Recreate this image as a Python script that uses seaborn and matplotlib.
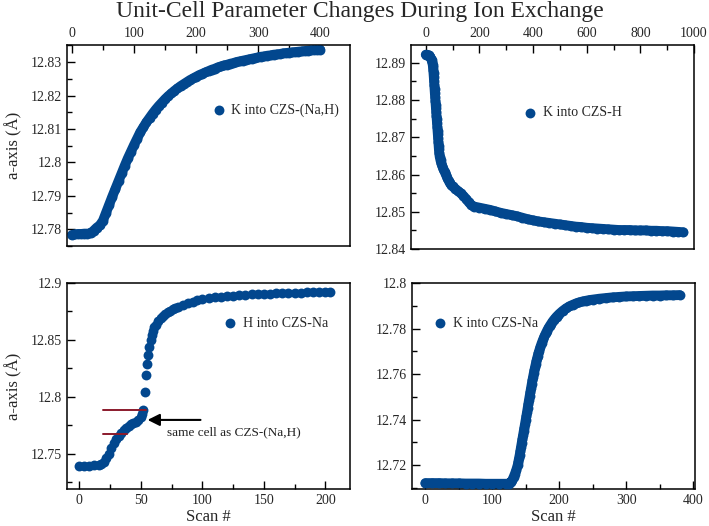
import numpy as np
import pandas as pd
import matplotlib
matplotlib.use("Agg")
import matplotlib.pyplot as plt
from matplotlib.ticker import MultipleLocator, FuncFormatter
import seaborn as sns

# ---------------- data ----------------
title = "Unit-Cell Parameter Changes During Ion Exchange"

# Panel 1: K into CZS-(Na,H)
k_nah_scan = [0, 5, 10, 15, 20, 25, 30, 35, 40, 45, 50, 55, 60, 65, 70, 75, 80, 85, 90, 95,
              100, 105, 110, 115, 120, 125, 130, 135, 140, 145, 150, 155, 160, 165, 170, 175,
              180, 185, 190, 195, 200, 205, 210, 215, 220, 225, 230, 235, 240, 245, 250, 255,
              260, 265, 270, 275, 280, 285, 290, 295, 300, 305, 310, 315, 320, 325, 330, 335,
              340, 345, 350, 355, 360, 365, 370, 375, 380, 385, 390, 395, 400]
k_nah_a = [12.7783, 12.7785, 12.7786, 12.7786, 12.7787, 12.7787, 12.7788, 12.7796, 12.7805,
           12.7812, 12.7826, 12.7850, 12.7874, 12.7898, 12.7921, 12.7944, 12.7967, 12.7990,
           12.8012, 12.8032, 12.8052, 12.8071, 12.8090, 12.8105, 12.8120, 12.8133, 12.8146,
           12.8158, 12.8169, 12.8179, 12.8189, 12.8198, 12.8206, 12.8214, 12.8221, 12.8228,
           12.8234, 12.8240, 12.8246, 12.8251, 12.8256, 12.8261, 12.8265, 12.8269, 12.8273,
           12.8277, 12.8280, 12.8284, 12.8287, 12.8290, 12.8292, 12.8295, 12.8297, 12.8300,
           12.8302, 12.8304, 12.8306, 12.8308, 12.8310, 12.8312, 12.8314, 12.8316, 12.8317,
           12.8319, 12.8320, 12.8322, 12.8323, 12.8324, 12.8326, 12.8327, 12.8328, 12.8329,
           12.8330, 12.8331, 12.8332, 12.8333, 12.8334, 12.8335, 12.8336, 12.8336, 12.8337]

# Panel 2: K into CZS-H
k_h_scan = [0, 4, 8, 12, 16, 20, 22, 24, 26, 27, 28, 29, 30, 31, 32, 33, 34, 35, 36, 37, 38,
            39, 40, 41, 42, 43, 44, 45, 46, 47, 48, 49, 50, 52, 55, 58, 62, 66, 70, 75, 80,
            85, 90, 95, 100, 110, 120, 130, 140, 150, 160, 170, 180, 200, 220, 240, 260, 280,
            300, 320, 340, 360, 380, 400, 420, 440, 460, 480, 500, 520, 540, 560, 580, 600,
            620, 640, 660, 680, 700, 720, 740, 760, 780, 800, 820, 840, 860, 880, 900, 920,
            940, 960]
k_h_a = [12.8922, 12.8922, 12.8921, 12.8920, 12.8917, 12.8911, 12.8907, 12.8902, 12.8895,
         12.8889, 12.8881, 12.8872, 12.8862, 12.8851, 12.8840, 12.8829, 12.8818, 12.8808,
         12.8798, 12.8788, 12.8778, 12.8768, 12.8758, 12.8748, 12.8738, 12.8728, 12.8718,
         12.8708, 12.8698, 12.8688, 12.8678, 12.8668, 12.8659, 12.8648, 12.8638, 12.8630,
         12.8622, 12.8615, 12.8608, 12.8600, 12.8592, 12.8584, 12.8577, 12.8572, 12.8568,
         12.8562, 12.8556, 12.8550, 12.8543, 12.8535, 12.8526, 12.8518, 12.8514, 12.8511,
         12.8508, 12.8505, 12.8501, 12.8497, 12.8494, 12.8491, 12.8488, 12.8484, 12.8480,
         12.8477, 12.8474, 12.8472, 12.8470, 12.8468, 12.8466, 12.8464, 12.8462, 12.8460,
         12.8459, 12.8457, 12.8456, 12.8455, 12.8454, 12.8453, 12.8452, 12.8451, 12.8451,
         12.8451, 12.8450, 12.8450, 12.8450, 12.8449, 12.8449, 12.8448, 12.8448, 12.8447,
         12.8446, 12.8445]

# Panel 3: H into CZS-Na
h_na_scan = [0, 4, 8, 12, 16, 18, 20, 22, 24, 26, 28, 30, 32, 34, 36, 38, 40, 42, 44, 46, 48,
             50, 51, 52, 53, 54, 55, 56, 57, 58, 59, 60, 61, 62, 64, 66, 68, 70, 72, 74, 76,
             78, 80, 84, 88, 92, 96, 100, 105, 110, 115, 120, 125, 130, 135, 140, 145, 150,
             155, 160, 165, 170, 175, 180, 185, 190, 195, 200, 204]
h_na_a = [12.7390, 12.7392, 12.7395, 12.7398, 12.7403, 12.7412, 12.7430, 12.7460, 12.7500,
          12.7548, 12.7590, 12.7625, 12.7655, 12.7683, 12.7708, 12.7728, 12.7745, 12.7758,
          12.7770, 12.7780, 12.7795, 12.7820, 12.7850, 12.7886, 12.8040, 12.8196, 12.8289,
          12.8371, 12.8439, 12.8503, 12.8545, 12.8580, 12.8610, 12.8632, 12.8665, 12.8690,
          12.8712, 12.8730, 12.8745, 12.8758, 12.8770, 12.8781, 12.8791, 12.8808, 12.8823,
          12.8836, 12.8848, 12.8858, 12.8867, 12.8874, 12.8880, 12.8885, 12.8889, 12.8893,
          12.8896, 12.8899, 12.8902, 12.8905, 12.8907, 12.8909, 12.8911, 12.8913, 12.8914,
          12.8916, 12.8917, 12.8918, 12.8919, 12.8920, 12.8921]

# Panel 4: K into CZS-Na
k_na_scan = [0, 10, 20, 30, 40, 50, 60, 70, 80, 90, 100, 110, 120, 125, 128, 130, 132, 134,
             136, 138, 139, 140, 141, 142, 143, 144, 145, 146, 147, 148, 149, 150, 151, 152,
             153, 154, 155, 156, 157, 158, 159, 160, 161, 162, 163, 164, 165, 166, 167, 168,
             169, 170, 172, 174, 176, 178, 180, 182, 184, 186, 188, 190, 192, 194, 196, 198,
             200, 205, 210, 215, 220, 225, 230, 235, 240, 245, 250, 260, 270, 280, 290, 300,
             310, 320, 330, 340, 350, 360, 370, 380]
k_na_a = [12.7121, 12.7121, 12.7121, 12.7120, 12.7120, 12.7120, 12.7119, 12.7119, 12.7119,
          12.7118, 12.7118, 12.7118, 12.7118, 12.7119, 12.7125, 12.7135, 12.7148, 12.7163,
          12.7180, 12.7200, 12.7215, 12.7230, 12.7245, 12.7262, 12.7280, 12.7297, 12.7314,
          12.7331, 12.7348, 12.7365, 12.7382, 12.7399, 12.7416, 12.7434, 12.7452, 12.7470,
          12.7488, 12.7505, 12.7522, 12.7539, 12.7556, 12.7572, 12.7588, 12.7603, 12.7617,
          12.7631, 12.7644, 12.7657, 12.7669, 12.7680, 12.7691, 12.7701, 12.7720, 12.7737,
          12.7752, 12.7766, 12.7779, 12.7791, 12.7802, 12.7812, 12.7821, 12.7830, 12.7838,
          12.7845, 12.7852, 12.7858, 12.7864, 12.7877, 12.7888, 12.7897, 12.7904, 12.7910,
          12.7915, 12.7919, 12.7922, 12.7925, 12.7927, 12.7931, 12.7934, 12.7937, 12.7939,
          12.7941, 12.7942, 12.7943, 12.7944, 12.7945, 12.7945, 12.7946, 12.7946, 12.7947]

series_labels = ["K into CZS-(Na,H)", "K into CZS-H", "H into CZS-Na", "K into CZS-Na"]

# annotation marks in the H into CZS-Na panel
ref_line_upper_x = [19.5, 54.4]
ref_line_upper_a = [12.7888, 12.7888]
ref_line_lower_x = [19.5, 38.4]
ref_line_lower_a = [12.7675, 12.7675]
arrow_from = (98.5, 12.7797)
arrow_to = (55.5, 12.7797)
note_text = "same cell as CZS-(Na,H)"
note_pos = (71.0, 12.7690)

# ---------------- styling ----------------
sns.set_theme(style="white")
plt.rcParams["font.family"] = ["Liberation Serif", "DejaVu Serif"]

BLUE = "#02478e"
RED = "#8b1a2c"
MS_PT = 7.1  # marker diameter in points

fig = plt.figure(figsize=(7.09, 5.26), dpi=100)

W, H = 709, 526
def axes_px(l, t, r, b):
    return fig.add_axes([l / W, 1 - b / H, (r - l) / W, (b - t) / H])

ax1 = axes_px(67, 45, 350, 246)
ax2 = axes_px(411, 45, 694, 249)
ax3 = axes_px(67, 283, 350, 489)
ax4 = axes_px(412, 283, 695, 489)

fmt = FuncFormatter(lambda v, p: f"{v:.3f}".rstrip("0").rstrip("."))


def draw(ax, xs, ys, label, band=True):
    df = pd.DataFrame({"scan": xs, "a": ys})
    if band:
        sns.lineplot(data=df, x="scan", y="a", ax=ax, color=BLUE, lw=MS_PT,
                     solid_capstyle="round", legend=False, sort=False, estimator=None)
    sns.scatterplot(data=df, x="scan", y="a", ax=ax, color=BLUE, s=MS_PT ** 2,
                    linewidth=0, label=label, zorder=3, legend=False)


def style(ax, top, xlim, ylim, xmaj, xmin, ymaj, ymin, leg_xy):
    ax.set_xlim(*xlim)
    ax.set_ylim(*ylim)
    ax.xaxis.set_major_locator(MultipleLocator(xmaj))
    ax.xaxis.set_minor_locator(MultipleLocator(xmin))
    ax.yaxis.set_major_locator(MultipleLocator(ymaj))
    ax.yaxis.set_minor_locator(MultipleLocator(ymin))
    ax.yaxis.set_major_formatter(fmt)
    for s in ax.spines.values():
        s.set_color("black")
        s.set_linewidth(1.1)
    ax.tick_params(which="both", direction="in", color="black", width=1.0,
                   left=True, right=False, top=top, bottom=not top,
                   labeltop=top, labelbottom=not top, labelsize=10, pad=3.5)
    ax.tick_params(which="major", length=5.5)
    ax.tick_params(which="minor", length=3.5)
    ax.set_ylabel("")
    ax.set_xlabel("")
    handles = [c for c in ax.collections if not c.get_label().startswith("_")]
    ax.legend(handles=handles, loc="center left", bbox_to_anchor=leg_xy, frameon=False,
              fontsize=10, borderpad=0, borderaxespad=0, handlelength=1.0,
              handletextpad=0.4, markerscale=1.0)


draw(ax1, k_nah_scan, k_nah_a, series_labels[0])
draw(ax2, k_h_scan, k_h_a, series_labels[1])
draw(ax3, h_na_scan, h_na_a, series_labels[2], band=False)
draw(ax4, k_na_scan, k_na_a, series_labels[3])

# annotation in panel 3
sns.lineplot(x=ref_line_upper_x, y=ref_line_upper_a, ax=ax3, color=RED, lw=1.4, zorder=4,
             legend=False)
sns.lineplot(x=ref_line_lower_x, y=ref_line_lower_a, ax=ax3, color=RED, lw=1.4, zorder=4,
             legend=False)
ax3.annotate("", xy=arrow_to, xytext=arrow_from,
             arrowprops=dict(arrowstyle="-|>", color="black", lw=1.5, mutation_scale=18,
                             shrinkA=0, shrinkB=0), zorder=5)
ax3.text(note_pos[0], note_pos[1], note_text, fontsize=9.5, ha="left", va="center",
         color="#222222")

style(ax1, True, (-8, 448), (12.775, 12.8351), 100, 50, 0.01, 0.005, (0.511, 0.677))
style(ax2, True, (-55, 1000), (12.84, 12.8948), 200, 100, 0.01, 0.005, (0.397, 0.667))
style(ax3, False, (-10, 220), (12.719, 12.9), 50, 25, 0.05, 0.025, (0.552, 0.804))
style(ax4, False, (-20, 403), (12.7095, 12.8), 100, 50, 0.02, 0.01, (0.075, 0.804))

# axis labels
for ax in (ax1, ax3):
    ax.set_ylabel("a-axis (Å)", fontsize=12)
    ax.yaxis.label.set_va("center")
    ax.yaxis.set_label_coords(-0.19, 0.5)
for ax in (ax3, ax4):
    ax.set_xlabel("Scan #", fontsize=12)
    ax.xaxis.label.set_va("top")
    ax.xaxis.set_label_coords(0.5, -0.095)

fig.text(0.508, 1 - 17 / H, title, ha="center", va="baseline", fontsize=17)

fig.savefig("out.png", dpi=100)
